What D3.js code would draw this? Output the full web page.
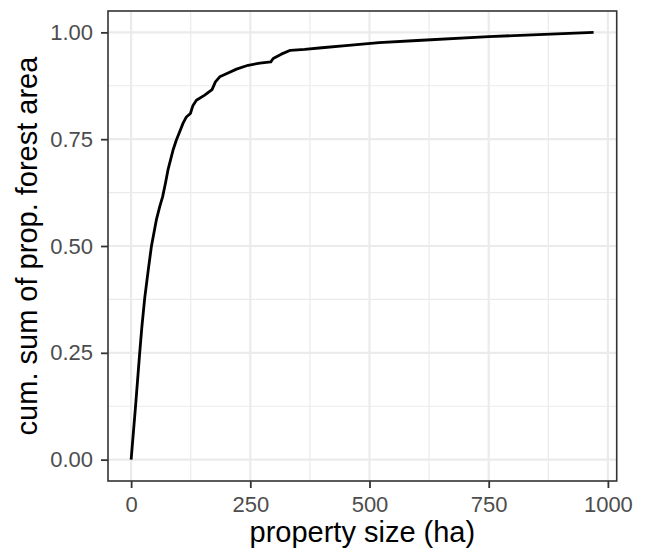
<!DOCTYPE html>
<html lang="en">
<head>
    <meta charset="UTF-8">
    <title>cumulative forest area</title>
    <script src="https://cdn.jsdelivr.net/npm/d3@7"></script>
    <style>
        body { margin: 0; background: #fff; }
        text { font-family: "Liberation Sans", Arial, sans-serif; }
    </style>
</head>
<body>
    <script>

        //data
        var propertySize = [0, 9.3, 18, 22.5, 28.5, 35.5, 42.4, 52.9, 60, 66, 72, 77.3, 87.8, 94.9, 101,
                            108.8, 115.9, 124.3, 129.8, 136.9, 154.3, 169.7, 176.8, 185.8, 199.9, 221,
                            245.3, 270, 293, 298, 315, 334, 364, 400, 450, 520, 600, 750, 880, 970];
        var cumSum = [0, 0.125, 0.25, 0.31, 0.378, 0.44, 0.498, 0.561, 0.592, 0.615, 0.647, 0.678, 0.724,
                      0.748, 0.765, 0.787, 0.802, 0.810, 0.829, 0.841, 0.853, 0.866, 0.884, 0.896, 0.903,
                      0.914, 0.923, 0.928, 0.931, 0.939, 0.949, 0.958, 0.960, 0.964, 0.969, 0.976, 0.981,
                      0.990, 0.996, 1.0];

        var xTicks = [0, 250, 500, 750, 1000];
        var xMinor = [125, 375, 625, 875];
        var yTicks = [0, 0.25, 0.5, 0.75, 1];
        var yMinor = [0.125, 0.375, 0.625, 0.875];

        //width and height
        var w = 646;
        var h = 551;
        var panel = {left: 108, right: 616.7, top: 11, bottom: 481};

        var data = propertySize.map(function(d, i) {
            return {x: d, y: cumSum[i]};
        });

        //ggplot style 5% expansion
        var xMax = d3.max(propertySize);
        var x = d3.scaleLinear()
                  .domain([-xMax * 0.05, xMax * 1.05])
                  .range([panel.left, panel.right]);
        var y = d3.scaleLinear()
                  .domain([-0.05, 1.05])
                  .range([panel.bottom, panel.top]);

        var svg = d3.select('body')
                    .append('svg')
                    .attr('width', w)
                    .attr('height', h);

        //minor grid
        svg.selectAll('.xminor')
            .data(xMinor)
            .enter()
            .append('line')
            .attr('x1', function(d) { return x(d); })
            .attr('x2', function(d) { return x(d); })
            .attr('y1', panel.top)
            .attr('y2', panel.bottom)
            .attr('stroke', '#ebebeb')
            .attr('stroke-width', 1.2);
        svg.selectAll('.yminor')
            .data(yMinor)
            .enter()
            .append('line')
            .attr('x1', panel.left)
            .attr('x2', panel.right)
            .attr('y1', function(d) { return y(d); })
            .attr('y2', function(d) { return y(d); })
            .attr('stroke', '#ebebeb')
            .attr('stroke-width', 1.2);

        //major grid
        svg.selectAll('.xmajor')
            .data(xTicks)
            .enter()
            .append('line')
            .attr('x1', function(d) { return x(d); })
            .attr('x2', function(d) { return x(d); })
            .attr('y1', panel.top)
            .attr('y2', panel.bottom)
            .attr('stroke', '#ebebeb')
            .attr('stroke-width', 2.2);
        svg.selectAll('.ymajor')
            .data(yTicks)
            .enter()
            .append('line')
            .attr('x1', panel.left)
            .attr('x2', panel.right)
            .attr('y1', function(d) { return y(d); })
            .attr('y2', function(d) { return y(d); })
            .attr('stroke', '#ebebeb')
            .attr('stroke-width', 2.2);

        //the curve
        var line = d3.line()
                     .x(function(d) { return x(d.x); })
                     .y(function(d) { return y(d.y); });
        svg.append('path')
            .datum(data)
            .attr('d', line)
            .attr('fill', 'none')
            .attr('stroke', '#000')
            .attr('stroke-width', 2.8)
            .attr('stroke-linejoin', 'round');

        //panel border
        svg.append('rect')
            .attr('x', panel.left)
            .attr('y', panel.top)
            .attr('width', panel.right - panel.left)
            .attr('height', panel.bottom - panel.top)
            .attr('fill', 'none')
            .attr('stroke', '#333')
            .attr('stroke-width', 1.6);

        //axes
        var xAxis = d3.axisBottom(x)
                      .tickValues(xTicks)
                      .tickSize(7)
                      .tickPadding(8)
                      .tickFormat(d3.format('d'));
        var yAxis = d3.axisLeft(y)
                      .tickValues(yTicks)
                      .tickSize(7)
                      .tickPadding(8)
                      .tickFormat(d3.format('.2f'));

        var gx = svg.append('g')
                    .attr('transform', 'translate(0,' + panel.bottom + ')')
                    .call(xAxis);
        var gy = svg.append('g')
                    .attr('transform', 'translate(' + panel.left + ',0)')
                    .call(yAxis);

        [gx, gy].forEach(function(g) {
            g.select('.domain').remove();
            g.selectAll('line').attr('stroke', '#333').attr('stroke-width', 1.8);
            g.selectAll('text')
                .attr('fill', '#4d4d4d')
                .attr('font-size', '22px')
                .attr('font-family', '"Liberation Sans", Arial, sans-serif');
        });

        //axis titles
        svg.append('text')
            .text('property size (ha)')
            .attr('x', (panel.left + panel.right) / 2)
            .attr('y', 542)
            .attr('text-anchor', 'middle')
            .attr('font-size', '29px')
            .attr('fill', '#000');

        svg.append('text')
            .text('cum. sum of prop. forest area')
            .attr('transform', 'translate(37,' + (panel.top + panel.bottom) / 2 + ') rotate(-90)')
            .attr('text-anchor', 'middle')
            .attr('font-size', '29px')
            .attr('fill', '#000');

    </script>
</body>
</html>
